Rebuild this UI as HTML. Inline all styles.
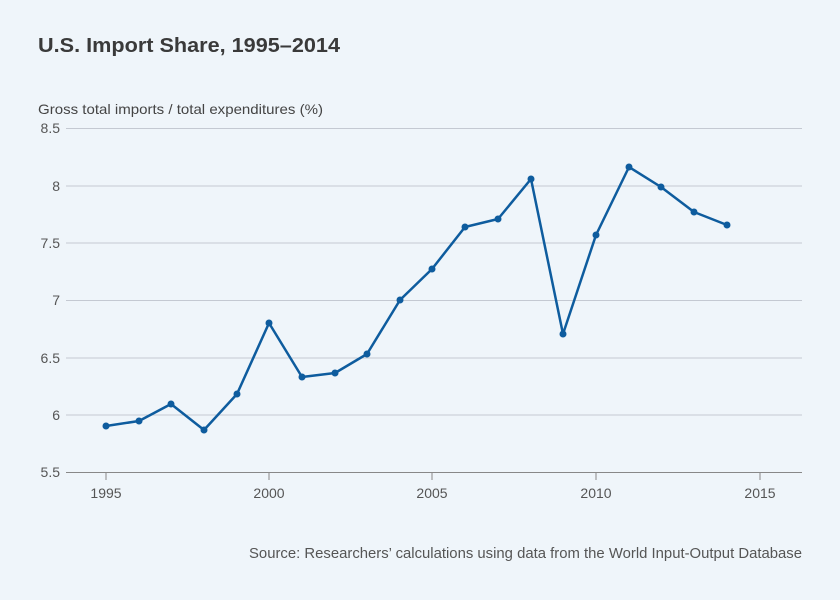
<!DOCTYPE html>
<html><head><meta charset="utf-8"><style>
html,body{margin:0;padding:0;background:#eff5fa;}
svg{display:block;font-family:"Liberation Sans",sans-serif;}
</style></head><body>
<svg width="840" height="600" viewBox="0 0 840 600">
<rect width="840" height="600" fill="#eff5fa"/>
<text x="38" y="52" font-size="20" font-weight="bold" fill="#3a3a3a" textLength="302" lengthAdjust="spacingAndGlyphs">U.S. Import Share, 1995–2014</text>
<text x="38" y="114" font-size="14" fill="#444" textLength="285" lengthAdjust="spacingAndGlyphs">Gross total imports / total expenditures (%)</text>
<g stroke="#c4c9d2" stroke-width="1">
<line x1="66" y1="128.5" x2="802" y2="128.5"/>
<line x1="66" y1="186" x2="802" y2="186"/>
<line x1="66" y1="243" x2="802" y2="243"/>
<line x1="66" y1="300.5" x2="802" y2="300.5"/>
<line x1="66" y1="358" x2="802" y2="358"/>
<line x1="66" y1="415" x2="802" y2="415"/>
</g>
<line x1="66" y1="472.5" x2="802" y2="472.5" stroke="#888" stroke-width="1"/>
<g stroke="#888" stroke-width="1">
<line x1="106" y1="472" x2="106" y2="480"/><line x1="269" y1="472" x2="269" y2="480"/>
<line x1="432" y1="472" x2="432" y2="480"/><line x1="596" y1="472" x2="596" y2="480"/>
<line x1="760" y1="472" x2="760" y2="480"/>
</g>
<g font-size="14" fill="#555" text-anchor="end">
<text x="60" y="133">8.5</text><text x="60" y="191">8</text><text x="60" y="248">7.5</text>
<text x="60" y="305">7</text><text x="60" y="363">6.5</text><text x="60" y="420">6</text><text x="60" y="477">5.5</text>
</g>
<g font-size="14" fill="#555" text-anchor="middle">
<text x="106" y="498">1995</text><text x="269" y="498">2000</text><text x="432" y="498">2005</text>
<text x="596" y="498">2010</text><text x="760" y="498">2015</text>
</g>
<polyline fill="none" stroke="#0e5c9e" stroke-width="2.5" stroke-linejoin="round" points="106,426 139,421 171,404 204,430 237,394 269,323 302,377 335,373 367,354 400,300 432,269 465,227 498,219 531,179 563,334 596,235 629,167 661,187 694,212 727,225"/>
<g fill="#0e5c9e">
<circle cx="106" cy="426" r="3.5"/><circle cx="139" cy="421" r="3.5"/><circle cx="171" cy="404" r="3.5"/><circle cx="204" cy="430" r="3.5"/><circle cx="237" cy="394" r="3.5"/><circle cx="269" cy="323" r="3.5"/><circle cx="302" cy="377" r="3.5"/><circle cx="335" cy="373" r="3.5"/><circle cx="367" cy="354" r="3.5"/><circle cx="400" cy="300" r="3.5"/><circle cx="432" cy="269" r="3.5"/><circle cx="465" cy="227" r="3.5"/><circle cx="498" cy="219" r="3.5"/><circle cx="531" cy="179" r="3.5"/><circle cx="563" cy="334" r="3.5"/><circle cx="596" cy="235" r="3.5"/><circle cx="629" cy="167" r="3.5"/><circle cx="661" cy="187" r="3.5"/><circle cx="694" cy="212" r="3.5"/><circle cx="727" cy="225" r="3.5"/>
</g>
<text x="249" y="558" font-size="15" fill="#555" textLength="553" lengthAdjust="spacingAndGlyphs">Source: Researchers’ calculations using data from the World Input-Output Database</text>
</svg>
</body></html>
